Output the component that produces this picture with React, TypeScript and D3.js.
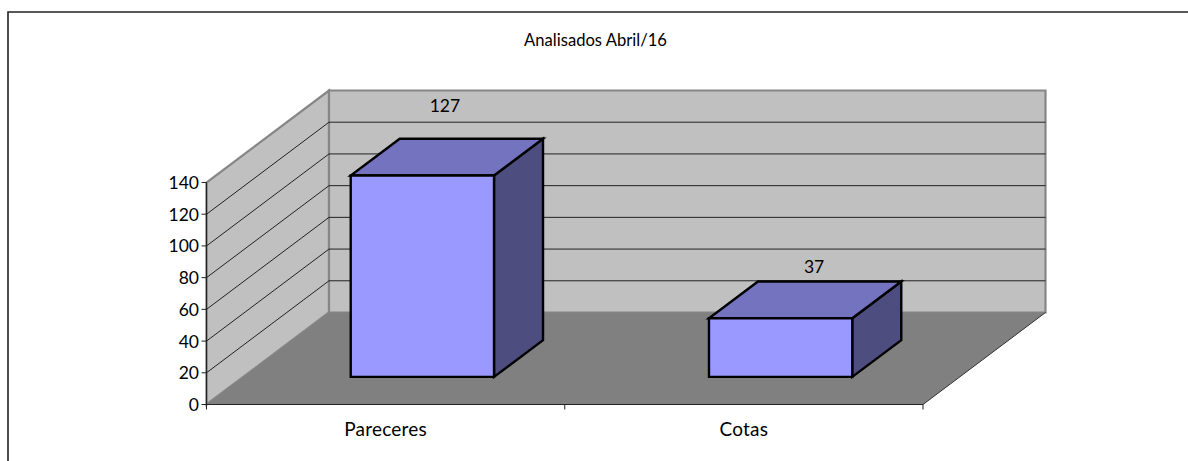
import React from "react";
import * as d3 from "d3";

const title = "Analisados Abril/16";
const categories = ["Pareceres", "Cotas"];
const values = [127, 37];
const yTicks = [0, 20, 40, 60, 80, 100, 120, 140];
// hand placed value labels, relative to the back top edge of each bar
const labelNudgeX = [-2, 9];
const labelNudgeY = [27, 8];

const font = "Lato, Carlito, sans-serif";

export default function App() {
  // front edge of the floor, and how far back the box goes
  const x = d3.scaleBand().domain(categories).range([206.5, 923]).paddingInner(0).paddingOuter(0);
  const y = d3.scaleLinear().domain([0, 140]).range([404.5, 182.5]);
  const depthX = 122.5;
  const depthY = -92;
  const band = x.bandwidth();
  const xTicks = [206.5, ...categories.map((c) => x(c)! + band)];

  const line = d3.line();
  const poly = (pts: [number, number][]) => line(pts)! + "Z";

  // bars sit in the middle 40% of the band and depth
  const barDepth = 0.4;
  const barStart = 0.3;

  return (
    <svg width={1188} height={461} style={{ position: "absolute", left: 0, top: 0, background: "#fff" }}>
      <path d="M8,461V12H1188" fill="none" stroke="#222" strokeWidth={1.6} />
      <text x={595.5} y={46} textAnchor="middle" fontFamily={font} fontSize={16.6} fill="#000">
        {title}
      </text>

      {/* walls */}
      <path
        d={poly([[206.5, y(0)], [206.5 + depthX, y(0) + depthY], [206.5 + depthX, y(140) + depthY], [206.5, y(140)]])}
        fill="#c0c0c0"
        stroke="#868686"
        strokeWidth={2.2}
      />
      <path
        d={poly([[206.5 + depthX, y(0) + depthY], [923 + depthX, y(0) + depthY], [923 + depthX, y(140) + depthY], [206.5 + depthX, y(140) + depthY]])}
        fill="#c0c0c0"
        stroke="#868686"
        strokeWidth={2.2}
      />
      <path
        d={poly([[206.5, y(0)], [923, y(0)], [923 + depthX, y(0) + depthY], [206.5 + depthX, y(0) + depthY]])}
        fill="#808080"
      />
      <path d={`M923,${y(0)}L${923 + depthX},${y(0) + depthY}`} stroke="#333" fill="none" />

      {/* gridlines */}
      {yTicks.slice(1, -1).map((t) => (
        <path
          key={t}
          d={`M206.5,${y(t)}L${206.5 + depthX},${y(t) + depthY}H${923 + depthX}`}
          fill="none"
          stroke="#222"
          strokeWidth={1}
        />
      ))}

      {/* axes */}
      <path d={`M206.5,${y(140)}V${y(0)}H923`} fill="none" stroke="#222" strokeWidth={1.2} />
      {yTicks.map((t) => (
        <g key={t}>
          <path d={`M201.5,${y(t)}H206.5`} stroke="#222" />
          <text x={199} y={y(t) + 6.5} textAnchor="end" fontFamily={font} fontSize={17.5} fill="#000">
            {t}
          </text>
        </g>
      ))}
      {xTicks.map((t) => (
        <path key={t} d={`M${t},${y(0)}v5`} stroke="#222" />
      ))}
      {categories.map((c) => (
        <text key={c} x={x(c)! + band / 2} y={436} textAnchor="middle" fontFamily={font} fontSize={19} letterSpacing={0.2} fill="#000">
          {c}
        </text>
      ))}

      {/* bars */}
      {categories.map((c, i) => {
        const w = band * 0.4;
        const dx = depthX * barStart;
        const dy = depthY * barStart;
        const x0 = x(c)! + band * 0.3 + dx;
        const x1 = x0 + w;
        const yb = y(0) + dy;
        const yt = y(values[i]) + dy;
        const ox = depthX * barDepth;
        const oy = depthY * barDepth;
        return (
          <g key={c} stroke="#000" strokeWidth={2.4} strokeLinejoin="miter">
            <path d={poly([[x1, yb], [x1 + ox, yb + oy], [x1 + ox, yt + oy], [x1, yt]])} fill="#4d4d80" />
            <path d={poly([[x0, yt], [x1, yt], [x1 + ox, yt + oy], [x0 + ox, yt + oy]])} fill="#7373bf" />
            <path d={poly([[x0, yb], [x1, yb], [x1, yt], [x0, yt]])} fill="#9999ff" />
            <text
              x={x0 + w / 2 + ox / 2 + labelNudgeX[i]}
              y={yt + oy - labelNudgeY[i]}
              textAnchor="middle"
              fontFamily={font}
              fontSize={17.5}
              fill="#000"
              stroke="none"
            >
              {values[i]}
            </text>
          </g>
        );
      })}
    </svg>
  );
}
